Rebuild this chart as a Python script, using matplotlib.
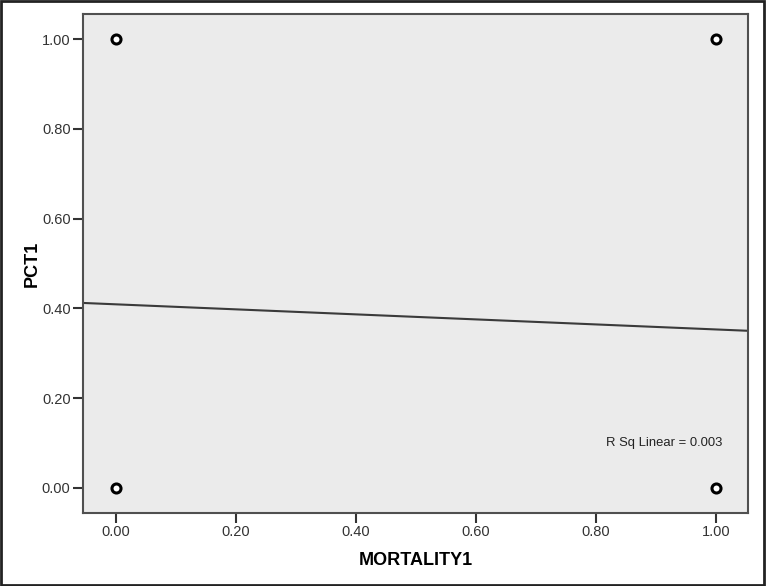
import numpy as np
import matplotlib.pyplot as plt
from matplotlib.patches import Rectangle

plt.rcParams['font.family'] = ['Liberation Sans', 'DejaVu Sans']

# scatter points (binary vs binary)
mortality = [0.0, 0.0, 1.0, 1.0]
pct = [1.0, 0.0, 1.0, 0.0]

# fitted linear line
fit_at_0 = 0.409
fit_at_1 = 0.353
r_sq_text = "R Sq Linear = 0.003"

ticks = [0.0, 0.2, 0.4, 0.6, 0.8, 1.0]
tick_labels = ["0.00", "0.20", "0.40", "0.60", "0.80", "1.00"]

fig = plt.figure(figsize=(7.66, 5.86), dpi=100)
ax = fig.add_axes([0.1084, 0.1246, 0.8681, 0.8515])
ax.set_facecolor("#ebebeb")

ax.axline((0, fit_at_0), (1, fit_at_1), color="#3a3a3a", lw=1.5)
ax.plot(mortality, pct, "o", ls="none", ms=6.5, mfc="white", mec="black", mew=2.2)

ax.set_xlim(-0.055, 1.053)
ax.set_ylim(-0.056, 1.056)
ax.set_xticks(ticks)
ax.set_xticklabels(tick_labels)
ax.set_yticks(ticks)
ax.set_yticklabels(tick_labels)
ax.tick_params(direction="out", length=7, width=1.5, color="#333333",
               labelsize=10.5, labelcolor="#333333", pad=2)
for side in ["left", "bottom", "top", "right"]:
    ax.spines[side].set_color("#505050")
    ax.spines[side].set_linewidth(1.5)

ax.set_xlabel("MORTALITY1", fontsize=13, fontweight="bold", labelpad=9)
ax.set_ylabel("PCT1", fontsize=13, fontweight="bold", labelpad=1)

ax.text(0.817, 0.10, r_sq_text, fontsize=9.4, color="#222222", va="center")

# outer frame around the whole picture
fig.patches.append(Rectangle((0.001, 0.001), 0.997, 0.997, transform=fig.transFigure,
                             fill=False, edgecolor="#222222", lw=2))

fig.savefig("out.png", dpi=100)
